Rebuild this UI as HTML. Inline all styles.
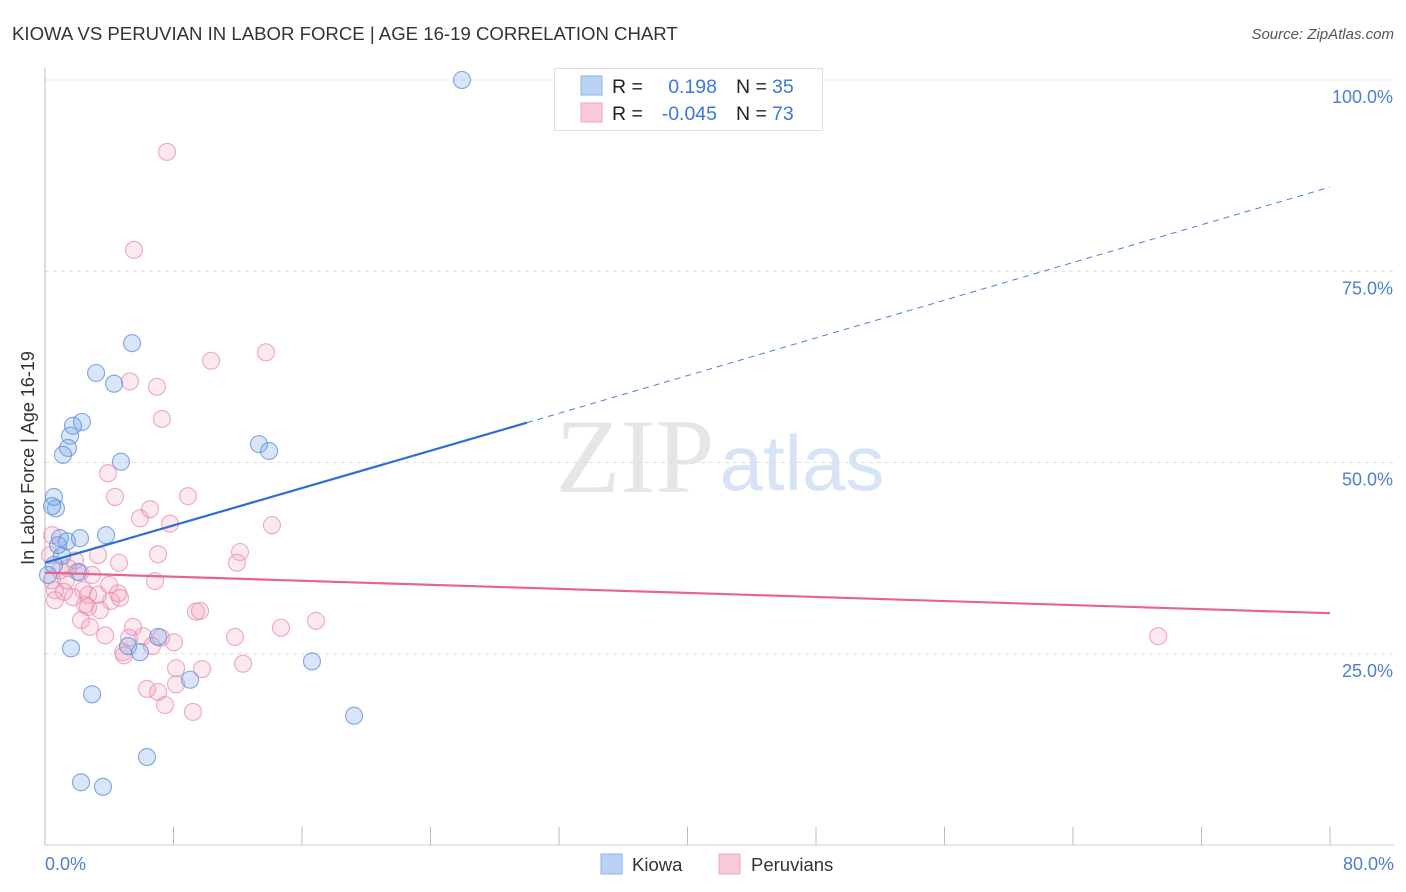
<!DOCTYPE html>
<html><head><meta charset="utf-8"><style>
body{margin:0;background:#fff;font-family:"Liberation Sans",sans-serif;}
svg{display:block}
</style></head><body>
<svg id="chart" width="1406" height="892">
<text x="12" y="40" font-size="18.6" fill="#333">KIOWA VS PERUVIAN IN LABOR FORCE | AGE 16-19 CORRELATION CHART</text>
<text x="1394" y="39" font-size="15" fill="#555" font-style="italic" text-anchor="end">Source: ZipAtlas.com</text>
<text x="635" y="492" font-size="106" fill="#e6e6e6" font-family="Liberation Serif,serif" text-anchor="middle">ZIP</text>
<text x="802" y="490" font-size="78" fill="#d6e4f5" text-anchor="middle">atlas</text>
<g id="grid"></g><g id="axes"></g><g id="pts"></g><g id="trend"></g>
<text transform="translate(34,458) rotate(-90)" font-size="18" fill="#333" text-anchor="middle">In Labor Force | Age 16-19</text>
<text x="45" y="870" font-size="18" fill="#4a7fd4">0.0%</text>
<text x="1394" y="870" font-size="18" fill="#4a7fd4" text-anchor="end">80.0%</text>
<g>
<rect x="554.5" y="68.5" width="268" height="62" fill="#fff" stroke="#ddd"/>
<rect x="581" y="76" width="21" height="19" fill="#b9d3f5" stroke="#8cb3ea"/>
<rect x="581" y="103" width="21" height="19" fill="#fbcad8" stroke="#f1a5bd"/>
<text x="612" y="93" font-size="19.5" fill="#222">R =</text>
<text x="717" y="93" font-size="19.5" fill="#3b78d8" text-anchor="end">0.198</text>
<text x="736" y="93" font-size="19.5" fill="#222">N =</text>
<text x="772" y="93" font-size="19.5" fill="#3b78d8">35</text>
<text x="612" y="120" font-size="19.5" fill="#222">R =</text>
<text x="717" y="120" font-size="19.5" fill="#3b78d8" text-anchor="end">-0.045</text>
<text x="736" y="120" font-size="19.5" fill="#222">N =</text>
<text x="772" y="120" font-size="19.5" fill="#3b78d8">73</text>
</g>
<g><rect x="601" y="854" width="21" height="20" fill="#b9d3f5" stroke="#8cb3ea"/><text x="632" y="871" font-size="18.5" fill="#333">Kiowa</text></g>
<g><rect x="719" y="854" width="21" height="20" fill="#fbcad8" stroke="#f1a5bd"/><text x="751" y="871" font-size="18.5" fill="#333">Peruvians</text></g>
</svg>
<script>
const yTicks=[25,50,75,100];
const yTickLabels=["25.0%","50.0%","75.0%","100.0%"];
const xTicks=[0,8,16,24,32,40,48,56,64,72,80];
const kiowaX=[25.96,5.42,3.18,4.30,2.30,1.74,1.56,1.43,1.12,4.73,13.32,13.95,0.56,0.68,0.44,0.93,1.37,2.18,3.80,1.06,2.05,1.62,5.17,5.91,7.04,2.93,9.03,16.62,19.24,6.35,2.24,3.61,0.56,0.19,0.81];
const kiowaY=[100,65.6,61.7,60.3,55.3,54.8,53.5,51.9,51.0,50.1,52.4,51.5,45.5,44.0,44.3,40.1,39.7,40.1,40.5,37.8,35.7,25.7,26.0,25.2,27.2,19.7,21.6,24.0,16.9,11.5,8.2,7.6,36.6,35.3,39.2];
const peruX=[7.60,5.54,13.76,10.34,5.29,6.97,7.28,3.92,4.36,8.90,6.54,5.91,7.78,14.13,7.04,12.14,11.95,3.30,4.61,6.85,14.69,16.87,9.40,9.65,11.83,12.33,8.03,9.78,8.16,8.16,6.35,7.04,7.47,9.21,69.3,5.23,4.86,4.92,6.66,6.10,5.48,7.22,4.55,4.11,3.43,3.74,2.80,2.24,3.99,2.37,1.74,2.49,2.68,1.18,0.62,0.44,0.93,1.43,2.18,2.93,1.87,3.30,0.31,0.44,0.62,1.31,4.67,2.68];
const peruY=[90.6,77.8,64.4,63.3,60.6,59.9,55.7,48.6,45.5,45.6,43.9,42.7,42.0,41.8,38.0,38.3,36.9,37.9,36.9,34.5,28.4,29.3,30.5,30.6,27.2,23.7,26.5,23.0,23.1,21.0,20.4,20.0,18.3,17.4,27.3,27.1,25.2,24.8,26.0,27.3,28.5,27.1,32.9,31.9,30.7,27.4,28.5,29.4,34.0,33.3,32.4,31.4,31.1,33.1,33.3,34.6,35.9,36.2,35.6,35.3,37.2,32.7,37.9,40.5,32.0,34.6,32.3,32.7];
const kiowaTrend=[36.9,55.2];const kiowaTrendX=[0,30];const kiowaTrendEnd=86.0;
const peruTrend=[35.6,30.3];
const NS="http://www.w3.org/2000/svg";
const X=v=>45+v/80*1285, Y=v=>845-v/100*765;
function mk(tag,attrs,parent){const e=document.createElementNS(NS,tag);for(const k in attrs)e.setAttribute(k,attrs[k]);document.getElementById(parent).appendChild(e);return e;}
yTicks.forEach((t,i)=>{
 const g=mk('line',{x1:45,x2:1394,y1:Y(t),y2:Y(t),stroke:'#ddd','stroke-dasharray':'4,4'},'grid');
 
 
 const l=mk('text',{x:1393,y:Y(t)+23,'font-size':18,fill:'#4a7fd4','text-anchor':'end'},'grid');
 l.textContent=yTickLabels[i];
 
 
});
const ax=mk('line',{x1:45,x2:45,y1:68,y2:845,stroke:'#bbb'},'axes');


const bx=mk('line',{x1:45,x2:1394,y1:845,y2:845,stroke:'#ccc'},'axes');


xTicks.forEach(t=>{
 const tk=mk('line',{x1:X(t),x2:X(t),y1:827,y2:845,stroke:'#bbb'},'axes');
 
 
});
peruX.forEach((v,i)=>{
 const c=mk('circle',{cx:X(v),cy:Y(peruY[i]),r:8.5,fill:'rgba(243,150,180,0.22)',stroke:'rgba(235,140,172,0.75)','stroke-width':1.1},'pts');
 
 
});
kiowaX.forEach((v,i)=>{
 const c=mk('circle',{cx:X(v),cy:Y(kiowaY[i]),r:8.5,fill:'rgba(120,165,235,0.28)',stroke:'rgba(95,145,225,0.8)','stroke-width':1.1},'pts');
 
 
});
const kt=mk('line',{x1:X(kiowaTrendX[0]),y1:Y(kiowaTrend[0]),x2:X(kiowaTrendX[1]),y2:Y(kiowaTrend[1]),stroke:'#2b6fd6','stroke-width':2.2},'trend');


const kd=mk('line',{x1:X(kiowaTrendX[1]),y1:Y(kiowaTrend[1]),x2:X(80),y2:Y(kiowaTrendEnd),stroke:'#4a80d8','stroke-width':1,'stroke-dasharray':'6,5'},'trend');


const pt=mk('line',{x1:X(0),y1:Y(peruTrend[0]),x2:X(80),y2:Y(peruTrend[1]),stroke:'#e8648f','stroke-width':2.2},'trend');


</script>
</body></html>
